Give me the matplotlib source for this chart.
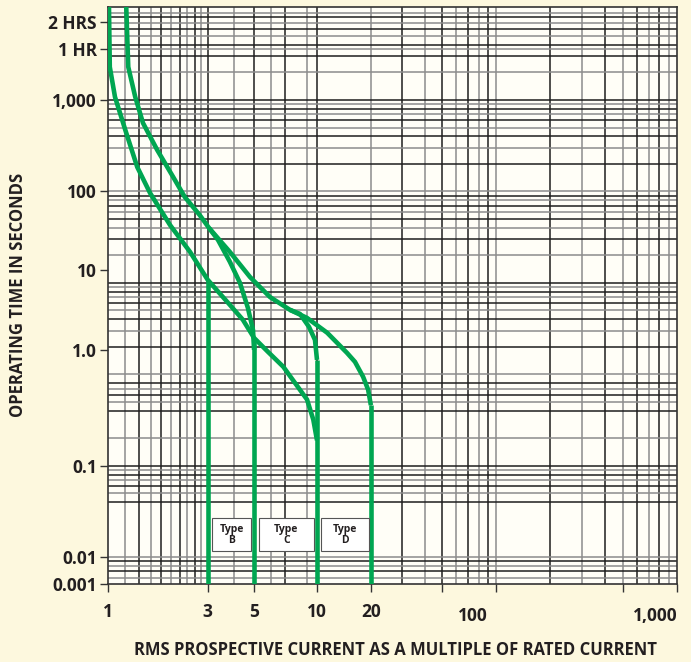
# MCB tripping characteristics (types B, C, D)
# log-log time/current chart, x axis decades drawn unevenly like the original

import matplotlib.pyplot as plt
import numpy as np
from matplotlib.patches import Rectangle

# thermal band, lower (no-trip) edge: multiple of rated current vs seconds
lower_x = [1.01, 1.02, 1.08, 1.21, 1.38, 1.59, 1.98, 2.47, 3.0, 3.83, 4.42, 5.0, 5.83, 6.9, 8.96, 9.6, 10.0]
lower_y = [12000, 2300, 1080, 470, 185, 96, 43, 21.8, 10.8, 5.75, 3.95, 2.5, 1.76, 1.21, 0.53, 0.32, 0.19]

# thermal band, upper (trip) edge, running on into type D
upper_x = [1.22, 1.25, 1.35, 1.47, 1.72, 2.05, 2.33, 2.75, 3.04, 3.83, 4.78, 5.96, 7.43, 8.96,
           11.4, 14.7, 16.3, 18.1, 19.3, 20.0]
upper_y = [12000, 2300, 1080, 561, 284, 144, 87, 55, 40, 21.8, 11.6, 7.0, 5.07, 4.14,
           2.85, 1.72, 1.37, 0.94, 0.68, 0.46]

# upper edge branching off to type B (5x) and type C (10x)
b_upper_x = [3.04, 3.36, 3.83, 4.28, 4.67, 4.94, 5.0]
b_upper_y = [40, 29.5, 17.0, 10.0, 5.33, 3.06, 1.85]
c_upper_x = [7.43, 8.29, 9.16, 9.78, 10.0]
c_upper_y = [5.07, 4.58, 3.30, 2.38, 1.44]

# instantaneous (magnetic) trip multiples and where the vertical drop starts
trip_x = [3, 5, 10, 20]
trip_top = [10.8, 2.5, 1.44, 0.46]
type_names = ['B', 'C', 'D']

# grid lines as in the printed chart
x_grid = [1.2, 1.4, 1.6, 1.8, 2, 2.2, 2.4, 2.6, 2.8, 3, 4, 5, 6, 7, 9, 10,
          20, 30, 40, 50, 60, 70, 80, 90, 100,
          200, 300, 400, 500, 600, 700, 800, 900]
y_grid = [0.006, 0.007, 0.008, 0.009, 0.01,
          0.04, 0.05, 0.06, 0.07, 0.08, 0.09, 0.1,
          0.2, 0.4, 0.5, 0.6, 0.7, 0.8, 1,
          2, 3, 4, 5, 6, 7, 8, 9, 10,
          20, 30, 40, 50, 60, 70, 80, 90, 100,
          200, 300, 400, 500, 600, 700, 800, 900, 1000,
          2000, 3000, 3600, 4000, 5000, 6000, 7000, 8000, 9000]

x_ticks = [1, 3, 5, 10, 20, 50, 100, 500, 1000]
x_ticklabels = ['1', '3', '5', '10', '20', '', '', '', '']
x_extra = [74, 760]
x_extra_labels = ['100', '1,000']

y_ticks = [0.0051, 0.01, 0.1, 1.83, 13.8, 100, 1000, 3600, 7200]
y_ticklabels = ['0.001', '0.01', '0.1', '1.0', '10', '100', '1,000', '1 HR', '2 HRS']

# first decade is wider than the others in the original artwork
DEC_L = [-3, 0, 1, 2, 3, 6]
DEC_P = [-627, 0, 209, 388, 569, 1112]


def fwd(x):
    L = np.log10(np.clip(np.asarray(x, dtype=float), 1e-6, None))
    return np.interp(L, DEC_L, DEC_P)


def inv(p):
    return 10 ** np.interp(np.asarray(p, dtype=float), DEC_P, DEC_L)


plt.rcParams['font.family'] = ['Open Sans', 'DejaVu Sans']
GREEN = '#00a651'
TXT = '#231f20'

fig = plt.figure(figsize=(6.91, 6.62), dpi=100, facecolor='#fdf8de')
ax = fig.add_axes([108 / 691, 78 / 662, 569 / 691, 577 / 662])
ax.set_facecolor('#fffef7')
ax.set_xscale('function', functions=(fwd, inv))
ax.set_yscale('log')
ax.set_xlim(1, 1000)
ax.set_ylim(0.0051, 10400)

# grid, alternating black and grey like the scanned original
for i, v in enumerate(x_grid):
    ax.axvline(v, color='#1e1e1e' if i % 2 else '#8c8c8c', lw=1.1, zorder=1)
for i, v in enumerate(y_grid):
    ax.axhline(v, color='#1e1e1e' if i % 2 else '#8c8c8c', lw=1.1, zorder=1)

# curves
kw = dict(color=GREEN, lw=3.3, solid_capstyle='butt', solid_joinstyle='round', zorder=3)
ax.plot(lower_x, lower_y, **kw)
ax.plot(upper_x, upper_y, **kw)
ax.plot(b_upper_x, b_upper_y, **kw)
ax.plot(c_upper_x, c_upper_y, **kw)
for xv, top in zip(trip_x, trip_top):
    ax.plot([xv, xv], [top, 0.004], **kw)

# type boxes between the trip lines
for i, name in enumerate(type_names):
    x0 = trip_x[i] * 1.05
    x1 = trip_x[i + 1] * 0.97
    ax.add_patch(Rectangle((x0, 0.0116), x1 - x0, 0.0268 - 0.0116,
                           facecolor='white', edgecolor='#555555', lw=0.8, zorder=4))
    ax.text(np.sqrt(x0 * x1), 0.0177, 'Type\n' + name, ha='center', va='center',
            fontsize=7.5, fontweight='bold', color=TXT, linespacing=1.0, zorder=5)

ax.set_xticks(x_ticks)
ax.set_xticklabels(x_ticklabels)
ax.xaxis.set_minor_locator(plt.NullLocator())
ax.set_yticks(y_ticks)
ax.set_yticklabels(y_ticklabels)
ax.yaxis.set_minor_locator(plt.NullLocator())
ax.tick_params(axis='both', length=6, width=1, color='#333333', labelsize=12.5, labelcolor=TXT)
ax.tick_params(axis='x', pad=8)
ax.tick_params(axis='y', pad=2)
for lab in ax.get_xticklabels() + ax.get_yticklabels():
    lab.set_fontweight('bold')

for xv, s in zip(x_extra, x_extra_labels):
    ax.text(xv, -0.04, s, transform=ax.get_xaxis_transform(), ha='center', va='top',
            fontsize=12.5, fontweight='bold', color=TXT)

for sp in ax.spines.values():
    sp.set_color('#333333')
    sp.set_linewidth(1.2)

fig.text(0.026, 0.555, 'OPERATING TIME IN SECONDS', rotation=90, ha='center', va='center',
         fontsize=12, fontweight='bold', color=TXT)
fig.text(0.572, 0.018, 'RMS PROSPECTIVE CURRENT AS A MULTIPLE OF RATED CURRENT',
         ha='center', va='center', fontsize=12, fontweight='bold', color=TXT)

plt.savefig('out.png', dpi=100, facecolor=fig.get_facecolor())
plt.close()
